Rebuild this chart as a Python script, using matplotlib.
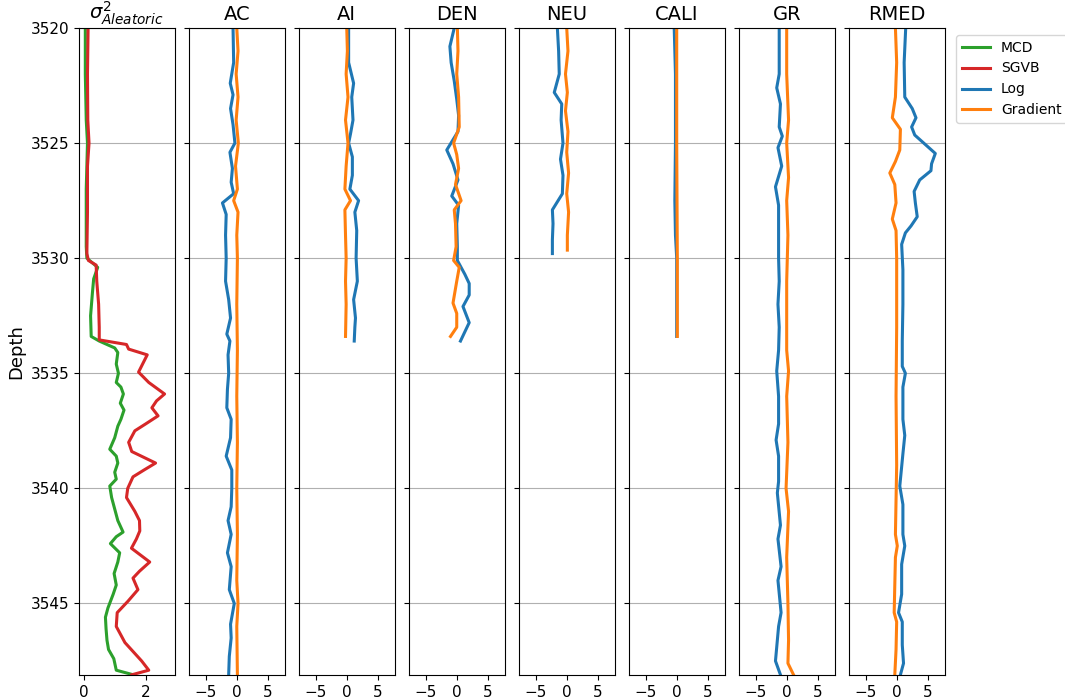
import numpy as np
import matplotlib
matplotlib.use("Agg")
import matplotlib.pyplot as plt

# aleatoric variance (first track)
mcd_depth = [3520.0, 3522.0, 3524.0, 3525.0, 3527.0, 3529.5, 3530.0, 3530.4, 3530.9, 3531.5,
             3532.0, 3532.5, 3533.4, 3533.6, 3533.9, 3534.1, 3534.6, 3535.0, 3535.4, 3535.6,
             3535.9, 3536.3, 3536.6, 3537.0, 3537.3, 3537.8, 3538.3, 3538.6, 3538.9, 3539.3,
             3539.6, 3539.9, 3540.4, 3540.9, 3541.4, 3541.9, 3542.1, 3542.4, 3542.8, 3543.2,
             3543.7, 3544.2, 3544.6, 3545.2, 3545.6, 3546.1, 3546.6, 3547.0, 3547.4, 3547.9, 3548.1]
mcd = [0.05, 0.05, 0.08, 0.12, 0.08, 0.08, 0.10, 0.45, 0.32, 0.28,
       0.25, 0.22, 0.24, 0.50, 1.00, 1.10, 1.05, 1.12, 1.05, 1.20,
       1.28, 1.18, 1.30, 1.20, 1.10, 1.00, 0.84, 1.05, 1.10, 1.00,
       1.05, 0.84, 0.90, 1.00, 1.10, 1.27, 1.05, 0.86, 1.16, 1.10,
       0.98, 1.05, 0.95, 0.78, 0.70, 0.72, 0.75, 0.80, 0.97, 1.05, 1.60]

sgvb_depth = [3520.0, 3522.0, 3524.0, 3525.0, 3526.0, 3528.0, 3529.8, 3530.1, 3530.3, 3531.0,
              3532.0, 3533.0, 3533.55, 3533.75, 3533.95, 3534.2, 3534.6, 3534.95, 3535.4, 3535.9,
              3536.2, 3536.5, 3536.85, 3537.2, 3537.5, 3538.0, 3538.4, 3538.9, 3539.2, 3539.5,
              3540.0, 3540.4, 3541.0, 3541.4, 3541.85, 3542.2, 3542.6, 3543.2, 3543.6, 3543.9,
              3544.4, 3544.9, 3545.4, 3546.0, 3546.7, 3547.5, 3547.9, 3548.1]
sgvb = [0.14, 0.12, 0.13, 0.17, 0.12, 0.12, 0.10, 0.15, 0.40, 0.42,
        0.48, 0.50, 0.50, 1.38, 1.45, 2.05, 1.90, 1.77, 2.10, 2.61,
        2.35, 2.20, 2.40, 2.00, 1.65, 1.45, 1.55, 2.32, 1.95, 1.59,
        1.42, 1.38, 1.65, 1.80, 1.81, 1.70, 1.54, 2.13, 1.80, 1.59,
        1.75, 1.43, 1.08, 1.05, 1.33, 1.87, 2.10, 1.55]

# log tracks: (depth, log, depth, gradient)
ac_log_depth = [3520, 3521.5, 3522.4, 3522.9, 3523.5, 3524.2, 3525.0, 3525.4, 3526.1, 3526.7,
                3527.2, 3527.6, 3528.1, 3529.0, 3530.0, 3531.0, 3531.8, 3532.6, 3533.3, 3533.6,
                3534.2, 3535.0, 3535.7, 3536.5, 3537.0, 3537.8, 3538.6, 3539.2, 3540.0, 3540.8,
                3541.4, 3542.0, 3542.8, 3543.4, 3544.4, 3545.0, 3545.9, 3546.5, 3547.3, 3548.1]
ac_log = [-0.6, -0.5, -1.05, -0.6, -1.0, -0.6, -0.3, -1.1, -0.7, -0.9,
          -0.5, -2.3, -1.7, -1.8, -1.7, -1.8, -1.3, -1.0, -1.6, -1.1,
          -1.4, -1.3, -1.5, -1.6, -0.9, -1.0, -1.7, -0.8, -0.8, -0.9,
          -1.4, -0.9, -1.5, -0.9, -1.2, -0.4, -1.0, -0.9, -1.2, -1.3]
ac_grad_depth = [3520, 3521, 3522, 3523, 3524, 3525, 3526, 3527, 3527.5, 3528, 3529, 3530,
                 3532, 3534, 3536, 3538, 3540, 3542, 3544, 3545, 3546, 3548.1]
ac_grad = [0.0, 0.2, -0.1, 0.2, -0.1, 0.25, -0.2, 0.1, -0.5, 0.2, 0.0, 0.1,
           0.0, 0.1, 0.0, 0.1, 0.0, 0.1, 0.0, 0.2, 0.0, 0.1]

ai_log_depth = [3520, 3521.5, 3522.4, 3523.0, 3524.0, 3524.6, 3525.0, 3525.6, 3526.4, 3527.0,
                3527.5, 3528.0, 3528.8, 3530.0, 3531.0, 3531.8, 3532.6, 3533.0, 3533.6]
ai_log = [0.3, 0.3, 1.1, 0.8, 1.0, 0.6, 0.3, 0.9, 0.9, 0.5,
          1.9, 1.3, 1.6, 1.5, 1.7, 1.1, 1.4, 1.3, 1.2]
ai_grad_depth = [3520, 3521, 3522, 3523, 3524, 3525, 3526, 3527, 3527.5, 3527.9, 3529, 3530,
                 3531, 3532, 3533.4]
ai_grad = [0.0, 0.1, -0.1, 0.2, -0.2, 0.2, -0.1, -0.3, 0.6, -0.3, -0.2, -0.1,
           -0.2, -0.1, -0.2]

den_log_depth = [3520, 3520.8, 3521.5, 3522.3, 3523.1, 3523.8, 3524.5, 3525.3, 3525.9, 3526.6,
                 3527.3, 3527.7, 3528.5, 3529.5, 3530.1, 3530.7, 3531.1, 3531.6, 3532.1, 3532.8,
                 3533.6]
den_log = [-0.4, -1.1, -0.9, -0.4, 0.0, 0.3, 0.2, -1.6, -0.6, 0.2,
           -0.8, 0.3, 0.0, 0.1, 0.1, 1.3, 2.0, 2.0, 1.0, 2.0,
           0.6]
den_grad_depth = [3520, 3521, 3522, 3523, 3524.3, 3525.0, 3525.5, 3526.1, 3526.8, 3527.5,
                  3527.9, 3528.5, 3529.5, 3530.1, 3530.4, 3531.0, 3531.95, 3532.4, 3533.0, 3533.4]
den_grad = [0.1, 0.2, 0.0, 0.3, 0.4, -0.5, 0.0, 0.3, -0.2, 0.7,
            -0.4, -0.2, -0.1, -0.5, 0.4, 0.0, -0.6, 0.0, 0.0, -1.0]

neu_log_depth = [3520, 3521, 3522, 3522.8, 3523.3, 3524.0, 3525, 3525.7, 3526.4, 3527.2,
                 3527.9, 3528.5, 3529.2, 3529.8]
neu_log = [-1.5, -1.3, -1.2, -2.0, -0.8, -0.9, -0.6, -1.0, -0.6, -0.7,
           -2.3, -2.2, -2.3, -2.3]
neu_grad_depth = [3520, 3521, 3522, 3522.8, 3523.6, 3524.5, 3525.4, 3526.3, 3527.2, 3528,
                  3529, 3529.65]
neu_grad = [0.0, 0.2, -0.2, 0.1, -0.2, 0.2, 0.0, 0.3, 0.0, 0.3, 0.1, 0.1]

cali_log_depth = [3520, 3521, 3522, 3525, 3527.5, 3529, 3530.0, 3533.4]
cali_log = [-0.4, -0.3, -0.2, -0.2, -0.3, -0.2, 0.0, 0.0]
cali_grad_depth = [3520, 3525, 3530.1, 3533.4]
cali_grad = [0.0, 0.0, 0.1, 0.1]

gr_log_depth = [3520, 3522, 3522.6, 3523.3, 3524.3, 3524.7, 3525.2, 3526.0, 3526.9, 3527.7,
                3529.0, 3530.0, 3531.0, 3532, 3533, 3534, 3534.9, 3536, 3537.2, 3537.9,
                3538.6, 3539.7, 3540.2, 3541.6, 3542.2, 3543.4, 3544.0, 3545.4, 3546.0, 3546.6,
                3547.5, 3548.1]
gr_log = [-1.2, -1.2, -1.6, -1.0, -1.2, -0.7, -1.4, -0.8, -1.8, -1.3,
          -1.3, -1.3, -1.2, -1.4, -1.2, -1.3, -1.6, -1.3, -1.3, -1.7,
          -1.3, -1.3, -1.5, -1.0, -1.4, -0.9, -1.4, -0.9, -1.3, -1.5,
          -1.8, -1.0]
gr_grad_depth = [3520, 3522, 3524, 3525, 3526.5, 3527.5, 3529, 3531, 3534, 3534.9,
                 3536, 3538, 3540, 3541, 3543, 3545, 3546.6, 3547.6, 3548.1]
gr_grad = [0.0, 0.0, 0.3, 0.0, 0.3, 0.0, 0.2, 0.0, 0.0, 0.3,
           0.0, 0.2, -0.1, 0.3, 0.0, 0.2, 0.3, 0.2, 1.1]

rmed_log_depth = [3520, 3521.5, 3523.0, 3523.5, 3523.9, 3524.3, 3524.65, 3525.45, 3525.9, 3526.2,
                  3526.6, 3527.1, 3527.6, 3528.2, 3528.6, 3528.9, 3529.4, 3530.5, 3532, 3533.6,
                  3534.7, 3535.0, 3535.6, 3537.0, 3537.7, 3538.5, 3539.9, 3540.7, 3542.0, 3542.5,
                  3543.3, 3544.6, 3545.4, 3545.8, 3546.8, 3547.6, 3548.1]
rmed_log = [1.45, 1.2, 1.3, 2.5, 3.1, 2.4, 2.9, 6.2, 5.6, 5.5,
            3.7, 2.8, 3.0, 3.3, 2.3, 1.4, 0.8, 1.0, 1.0, 0.9,
            0.9, 1.4, 1.0, 1.0, 1.3, 1.0, 0.5, 1.0, 1.0, 1.3,
            0.8, 0.8, 0.3, 0.9, 0.9, 1.1, 0.6]
rmed_grad_depth = [3520, 3521.5, 3523.0, 3523.9, 3524.4, 3525.3, 3525.8, 3526.3, 3526.8, 3527.6,
                   3528.3, 3528.8, 3530, 3533, 3536, 3539, 3542, 3542.5, 3543, 3545.4,
                   3545.8, 3547, 3548.1]
rmed_grad = [-0.2, 0.0, -0.2, -0.7, 0.6, 0.5, -0.2, -1.1, -0.3, -0.1,
             -0.7, -0.1, 0.0, 0.0, -0.1, 0.0, -0.2, 0.1, -0.2, -0.4,
             0.0, -0.1, -0.3]

tracks = [
    ("AC", ac_log_depth, ac_log, ac_grad_depth, ac_grad),
    ("AI", ai_log_depth, ai_log, ai_grad_depth, ai_grad),
    ("DEN", den_log_depth, den_log, den_grad_depth, den_grad),
    ("NEU", neu_log_depth, neu_log, neu_grad_depth, neu_grad),
    ("CALI", cali_log_depth, cali_log, cali_grad_depth, cali_grad),
    ("GR", gr_log_depth, gr_log, gr_grad_depth, gr_grad),
    ("RMED", rmed_log_depth, rmed_log, rmed_grad_depth, rmed_grad),
]

lw = 2.2
fig, axes = plt.subplots(1, 8, sharey=True, figsize=(10.65, 7.0), dpi=100)
fig.subplots_adjust(left=0.074, right=0.887, top=0.96, bottom=0.036, wspace=0.146)

ax = axes[0]
ax.plot(mcd, mcd_depth, color="tab:green", lw=lw, label="MCD")
ax.plot(sgvb, sgvb_depth, color="tab:red", lw=lw, label="SGVB")
ax.set_xlim(-0.16, 2.94)
ax.set_xticks([0, 2])
ax.set_title(r"$\sigma^2_{Aleatoric}$", fontsize=14)
ax.set_ylabel("Depth", fontsize=13)

for ax, (name, ld, lv, gd, gv) in zip(axes[1:], tracks):
    ax.plot(lv, ld, color="tab:blue", lw=lw, label="Log")
    ax.plot(gv, gd, color="tab:orange", lw=lw, label="Gradient")
    ax.set_xlim(-7.7, 7.7)
    ax.set_xticks([-5, 0, 5])
    ax.set_title(name, fontsize=14)

for ax in axes:
    ax.grid(axis="y", color="#b0b0b0", lw=0.8)
    ax.tick_params(labelsize=11)

axes[0].set_ylim(3548.1, 3520)
axes[0].set_yticks([3520, 3525, 3530, 3535, 3540, 3545])

h1, l1 = axes[0].get_legend_handles_labels()
h2, l2 = axes[1].get_legend_handles_labels()
axes[-1].legend(h1 + h2, l1 + l2, loc="upper left", bbox_to_anchor=(1.05, 1.0), fontsize=10)

fig.savefig("out.png", dpi=100)
